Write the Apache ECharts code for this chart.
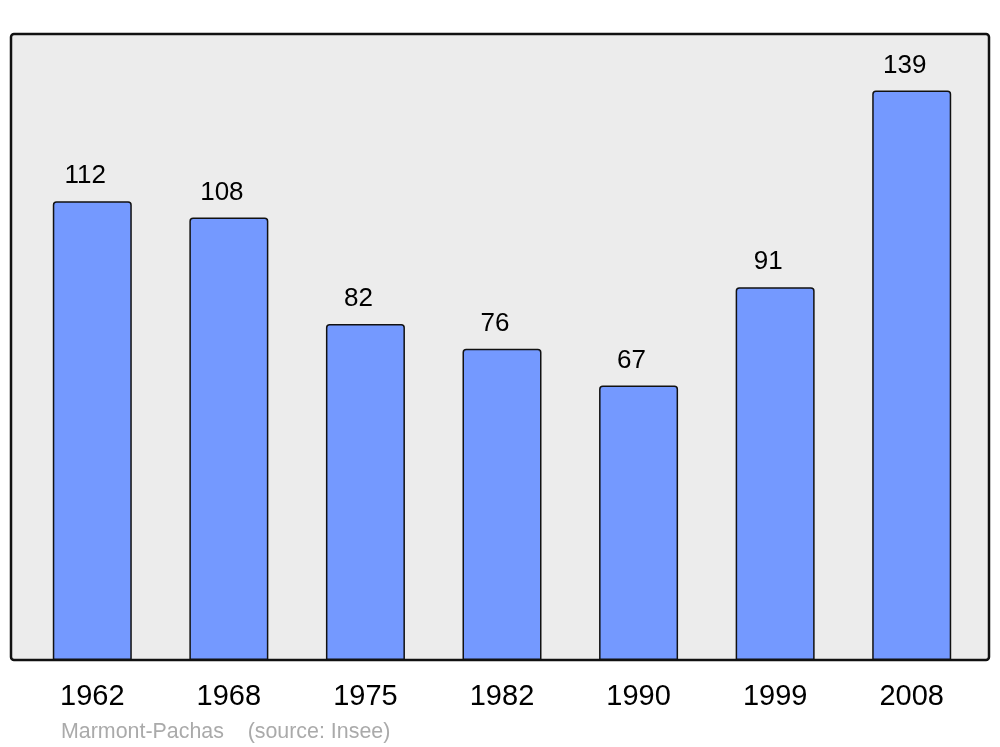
<!DOCTYPE html>
<html>
<head>
<meta charset="utf-8">
<script src="https://cdn.jsdelivr.net/npm/echarts@6/dist/echarts.min.js"></script>
<style>
html,body{margin:0;padding:0;background:#fff;}
#chart{width:1000px;height:747px;}
</style>
</head>
<body>
<div id="chart"></div>
<script>
const years = ['1962', '1968', '1975', '1982', '1990', '1999', '2008'];
const population = [112, 108, 82, 76, 67, 91, 139];
const sourceText = 'Marmont-Pachas    (source: Insee)';

const chart = echarts.init(document.getElementById('chart'));
chart.setOption({
  animation: false,
  backgroundColor: '#ffffff',
  textStyle: { fontFamily: 'Liberation Sans, Arial, sans-serif' },
  title: {
    text: sourceText,
    left: 61,
    top: 722,
    padding: 0,
    textStyle: { fontSize: 21.4, fontWeight: 'normal', color: '#aaaaaa', fontFamily: 'Liberation Sans, Arial, sans-serif' }
  },
  graphic: [{
    type: 'rect',
    z: -10,
    silent: true,
    shape: { x: 11, y: 34, width: 978, height: 626, r: 3 },
    style: { fill: '#ececec', stroke: '#111111', lineWidth: 2.5 }
  }],
  grid: { left: 24, right: 20, top: 34, bottom: 87, containLabel: false },
  xAxis: {
    type: 'category',
    data: years,
    axisLine: { show: false },
    axisTick: { show: false },
    axisLabel: { fontSize: 29, color: '#000', margin: 22, fontFamily: 'Liberation Sans, Arial, sans-serif' }
  },
  yAxis: {
    type: 'value',
    min: 0,
    max: 152.8,
    show: false,
    splitLine: { show: false }
  },
  series: [{
    type: 'bar',
    data: population,
    barWidth: 79,
    z: 2,
    itemStyle: { color: '#7499ff', borderColor: '#111111', borderWidth: 1.5, borderRadius: [3, 3, 0, 0] },
    label: {
      show: true,
      position: 'top',
      distance: 12,
      offset: [-7, 0],
      fontSize: 26,
      color: '#000',
      fontFamily: 'Liberation Sans, Arial, sans-serif'
    }
  }]
});
</script>
</body>
</html>
